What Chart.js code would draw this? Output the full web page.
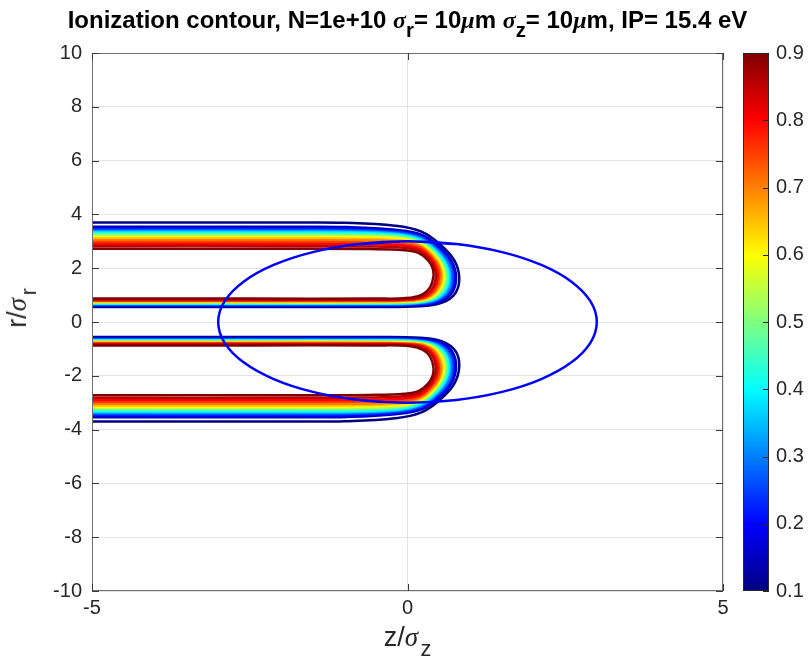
<!DOCTYPE html>
<html><head><meta charset="utf-8">
<script src="https://cdn.jsdelivr.net/npm/chart.js@4.4.1/dist/chart.umd.min.js"></script>
<style>
html,body{margin:0;padding:0;background:#fff;}
#wrap{position:relative;width:809px;height:665px;overflow:hidden;background:#fff;}
canvas{position:absolute;left:0;top:0;}
.t{position:absolute;white-space:nowrap;color:#262626;font-family:'Liberation Sans',Arial,Helvetica,sans-serif;}
.g{font-family:'Liberation Serif','DejaVu Serif',serif;font-style:italic;}
.sb{position:relative;top:0.42em;font-size:0.85em;}
.sl{position:relative;top:0.45em;font-size:0.8em;margin-left:0.12em;}
</style></head><body>
<div id="wrap">
<canvas id="c" width="809" height="665"></canvas>
<div class="t" id="title" style="left:0;width:815px;top:8px;line-height:24px;text-align:center;font-weight:bold;font-size:24px;color:#000">Ionization contour, N=1e+10 <span class="g">σ</span><span class="sb">r</span>= 10<span class="g">μ</span>m <span class="g">σ</span><span class="sb">z</span>= 10<span class="g">μ</span>m, IP= 15.4 eV</div>
<div class="t" id="xl" style="left:0;width:815px;top:624px;line-height:27px;text-align:center;font-size:27px">z/<span class="g">σ</span><span class="sl">z</span></div>
<div class="t" id="yl" style="left:18px;top:308px;line-height:27px;font-size:27px;transform:translate(-50%,-50%) rotate(-90deg)">r/<span class="g">σ</span><span class="sl">r</span></div>
</div>
<script>
// ---- data ----
const levels = [0.10,0.15,0.20,0.25,0.30,0.35,0.40,0.45,0.50,0.55,0.60,0.65,0.70,0.75,0.80,0.85,0.90];
// upper-half contour paths, [z, r] pairs (lower half is the mirror image r -> -r)
const contourUpper = [
 [[-5,3.70],[-1.8,3.70],[-1.0,3.69],[-0.2,3.58],[0.22,3.36],[0.52,2.88],[0.74,2.30],[0.82,1.65],[0.76,1.08],[0.55,0.72],[0.20,0.59],[-0.5,0.56],[-2.5,0.56],[-5,0.56]],
 [[-5,3.54],[-1.8,3.54],[-0.96,3.53],[-0.19,3.43],[0.22,3.25],[0.50,2.81],[0.70,2.27],[0.77,1.65],[0.71,1.10],[0.52,0.75],[0.19,0.62],[-0.5,0.59],[-2.5,0.59],[-5,0.59]],
 [[-5,3.48],[-1.8,3.48],[-0.93,3.47],[-0.17,3.37],[0.21,3.19],[0.49,2.77],[0.68,2.24],[0.74,1.66],[0.68,1.12],[0.49,0.78],[0.17,0.65],[-0.5,0.62],[-2.5,0.62],[-5,0.62]],
 [[-5,3.43],[-1.8,3.43],[-0.90,3.42],[-0.16,3.33],[0.21,3.15],[0.47,2.73],[0.66,2.22],[0.72,1.66],[0.66,1.14],[0.47,0.80],[0.16,0.67],[-0.5,0.64],[-2.5,0.64],[-5,0.64]],
 [[-5,3.38],[-1.8,3.38],[-0.88,3.37],[-0.15,3.29],[0.21,3.11],[0.46,2.69],[0.64,2.20],[0.69,1.66],[0.64,1.15],[0.45,0.82],[0.15,0.69],[-0.5,0.66],[-2.5,0.66],[-5,0.66]],
 [[-5,3.35],[-1.8,3.35],[-0.85,3.34],[-0.14,3.26],[0.21,3.07],[0.45,2.66],[0.61,2.18],[0.67,1.66],[0.61,1.16],[0.44,0.84],[0.14,0.71],[-0.5,0.68],[-2.5,0.68],[-5,0.68]],
 [[-5,3.32],[-1.8,3.32],[-0.83,3.31],[-0.14,3.23],[0.20,3.04],[0.44,2.64],[0.60,2.17],[0.65,1.66],[0.59,1.17],[0.42,0.85],[0.14,0.72],[-0.5,0.69],[-2.5,0.69],[-5,0.69]],
 [[-5,3.27],[-1.8,3.27],[-0.81,3.26],[-0.13,3.19],[0.20,3.00],[0.43,2.61],[0.58,2.15],[0.63,1.66],[0.57,1.18],[0.40,0.87],[0.13,0.74],[-0.5,0.71],[-2.5,0.71],[-5,0.71]],
 [[-5,3.23],[-1.8,3.23],[-0.79,3.22],[-0.12,3.15],[0.20,2.97],[0.42,2.58],[0.56,2.13],[0.61,1.67],[0.55,1.19],[0.39,0.88],[0.12,0.75],[-0.5,0.72],[-2.5,0.72],[-5,0.72]],
 [[-5,3.19],[-1.8,3.19],[-0.77,3.18],[-0.11,3.12],[0.20,2.94],[0.41,2.56],[0.55,2.12],[0.59,1.67],[0.53,1.21],[0.37,0.89],[0.11,0.77],[-0.5,0.74],[-2.5,0.74],[-5,0.74]],
 [[-5,3.15],[-1.8,3.15],[-0.75,3.14],[-0.11,3.08],[0.20,2.91],[0.40,2.54],[0.53,2.11],[0.57,1.67],[0.51,1.22],[0.36,0.90],[0.11,0.78],[-0.5,0.75],[-2.5,0.75],[-5,0.75]],
 [[-5,3.10],[-1.8,3.10],[-0.73,3.09],[-0.10,3.03],[0.19,2.87],[0.39,2.51],[0.51,2.10],[0.55,1.67],[0.49,1.23],[0.34,0.92],[0.10,0.80],[-0.5,0.77],[-2.5,0.77],[-5,0.77]],
 [[-5,3.04],[-1.8,3.04],[-0.71,3.03],[-0.09,2.97],[0.19,2.82],[0.38,2.47],[0.50,2.08],[0.53,1.67],[0.47,1.24],[0.33,0.93],[0.09,0.81],[-0.5,0.78],[-2.5,0.78],[-5,0.78]],
 [[-5,2.97],[-1.8,2.97],[-0.69,2.96],[-0.08,2.90],[0.19,2.77],[0.37,2.43],[0.48,2.06],[0.50,1.67],[0.45,1.25],[0.31,0.95],[0.08,0.83],[-0.5,0.80],[-2.5,0.80],[-5,0.80]],
 [[-5,2.90],[-1.8,2.90],[-0.66,2.89],[-0.07,2.84],[0.19,2.71],[0.36,2.39],[0.45,2.04],[0.48,1.68],[0.42,1.27],[0.29,0.97],[0.07,0.85],[-0.5,0.82],[-2.5,0.82],[-5,0.82]],
 [[-5,2.82],[-1.8,2.82],[-0.64,2.81],[-0.06,2.76],[0.18,2.64],[0.35,2.34],[0.43,2.01],[0.45,1.68],[0.40,1.28],[0.27,0.99],[0.06,0.87],[-0.5,0.84],[-2.5,0.84],[-5,0.84]],
 [[-5,2.72],[-1.8,2.72],[-0.6,2.71],[-0.05,2.67],[0.18,2.56],[0.33,2.28],[0.40,1.98],[0.41,1.68],[0.36,1.30],[0.24,1.03],[0.05,0.90],[-0.5,0.87],[-2.5,0.87],[-5,0.87]]
];
// the blue ellipse (radius 3 in both z and r), points every 15 degrees, starting at 75 deg and overlapping past the top
const ellipsePts = [[0.776,2.898],[0,3],[-0.776,2.898],[-1.5,2.598],[-2.121,2.121],[-2.598,1.5],[-2.898,0.776],[-3,0],[-2.898,-0.776],[-2.598,-1.5],[-2.121,-2.121],[-1.5,-2.598],[-0.776,-2.898],[0,-3],[0.776,-2.898],[1.5,-2.598],[2.121,-2.121],[2.598,-1.5],[2.898,-0.776],[3,0],[2.898,0.776],[2.598,1.5],[2.121,2.121],[1.5,2.598],[0.776,2.898],[0,3],[-0.776,2.898]];
const xTicks = [-5,0,5];
const yTicks = [-10,-8,-6,-4,-2,0,2,4,6,8,10];
const cbTicks = [0.1,0.2,0.3,0.4,0.5,0.6,0.7,0.8,0.9];
const cbMin = 0.1, cbMax = 0.9;

// ---- styling ----
const FONT = "'Liberation Sans', Arial, Helvetica, sans-serif";
const TXT = '#262626';
function clamp(v){return Math.max(0,Math.min(1,v));}
function jetRGB(t){
  return [clamp(1.5-Math.abs(4*t-3)), clamp(1.5-Math.abs(4*t-2)), clamp(1.5-Math.abs(4*t-1))].map(c=>Math.round(c*255));
}
function jet(t){const c=jetRGB(t);return `rgb(${c[0]},${c[1]},${c[2]})`;}

const datasets = [];
datasets.push({data: ellipsePts.map(([x,y])=>({x,y})), borderColor:'#0000ff', borderWidth:2.5,
  tension:0.34, showLine:true, pointRadius:0, fill:false, order:-10});
levels.forEach((v,i)=>{
  const col = jet((v-cbMin)/(cbMax-cbMin));
  const pts = contourUpper[i];
  const common = {borderColor:col, borderWidth:2.5, tension:0.4, showLine:true, pointRadius:0, fill:false, order:levels.length-i};
  datasets.push(Object.assign({data: pts.map(([x,y])=>({x,y}))}, common));
  datasets.push(Object.assign({data: pts.map(([x,y])=>({x,y:-y}))}, common));
});

const frame = {
  id:'frame',
  afterDraw(chart){
    const {ctx, chartArea:a, scales} = chart;
    ctx.save();
    ctx.lineWidth = 1;
    ctx.strokeStyle = '#6e6e6e';
    ctx.strokeRect(a.left+0.5, a.top+0.5, a.right-a.left-1, a.bottom-a.top-1);
    ctx.strokeStyle = '#3a3a3a';
    ctx.beginPath();
    xTicks.forEach(v=>{
      const px = Math.round(scales.x.getPixelForValue(v))+0.5;
      ctx.moveTo(px,a.bottom); ctx.lineTo(px,a.bottom-7);
      ctx.moveTo(px,a.top); ctx.lineTo(px,a.top+7);
    });
    yTicks.forEach(v=>{
      const py = Math.round(scales.y.getPixelForValue(v))+0.5;
      ctx.moveTo(a.left,py); ctx.lineTo(a.left+7,py);
      ctx.moveTo(a.right,py); ctx.lineTo(a.right-7,py);
    });
    ctx.stroke();
    // colorbar
    const cb = scales.cb;
    const y0 = Math.round(cb.getPixelForValue(cbMax)), y1 = Math.round(cb.getPixelForValue(cbMin));
    const x0 = Math.round(a.right)+20, w = 26;
    const g = ctx.createLinearGradient(0,y1,0,y0);
    [0,0.125,0.375,0.625,0.875,1].forEach(s=>g.addColorStop(s, jet(s)));
    ctx.fillStyle = g;
    ctx.fillRect(x0,y0,w,y1-y0);
    ctx.strokeStyle = '#262626';
    ctx.strokeRect(x0+0.5,y0+0.5,w-1,y1-y0-1);
    ctx.beginPath();
    cbTicks.forEach(v=>{
      const py = Math.round(cb.getPixelForValue(v))+0.5;
      ctx.moveTo(x0+w,py); ctx.lineTo(x0+w-6,py);
    });
    ctx.stroke();
    ctx.restore();
  }
};

new Chart(document.getElementById('c'), {
  type:'scatter',
  data:{datasets},
  plugins:[frame],
  options:{
    responsive:false, animation:false, devicePixelRatio:1,
    layout:{padding:{top:53,left:0,right:0,bottom:0}},
    plugins:{legend:{display:false}, tooltip:{enabled:false}, title:{display:false}},
    scales:{
      x:{type:'linear', position:'bottom', min:-5, max:5,
        afterBuildTicks:s=>{s.ticks = xTicks.map(v=>({value:v}));},
        afterFit:s=>{s.height = 74;},
        grid:{color:'#e4e4e4', drawTicks:false, lineWidth:1},
        border:{display:false},
        ticks:{font:{family:FONT,size:20}, color:TXT, padding:5, maxRotation:0, autoSkip:false}},
      y:{type:'linear', position:'left', min:-10, max:10,
        afterBuildTicks:s=>{s.ticks = yTicks.map(v=>({value:v}));},
        afterFit:s=>{s.width = 92; s.paddingTop = 0; s.paddingBottom = 0;},
        grid:{color:'#e4e4e4', drawTicks:false, lineWidth:1},
        border:{display:false},
        ticks:{font:{family:FONT,size:20}, color:TXT, padding:10, autoSkip:false}},
      cb:{type:'linear', position:'right', min:cbMin, max:cbMax,
        afterBuildTicks:s=>{s.ticks = cbTicks.map(v=>({value:v}));},
        afterFit:s=>{s.width = 86; s.paddingTop = 0; s.paddingBottom = 0;},
        grid:{display:false, drawTicks:false},
        border:{display:false},
        ticks:{font:{family:FONT,size:20}, color:TXT, padding:53, autoSkip:false, callback:v=>Number(v).toFixed(1)}}
    }
  }
});
</script>
</body></html>
